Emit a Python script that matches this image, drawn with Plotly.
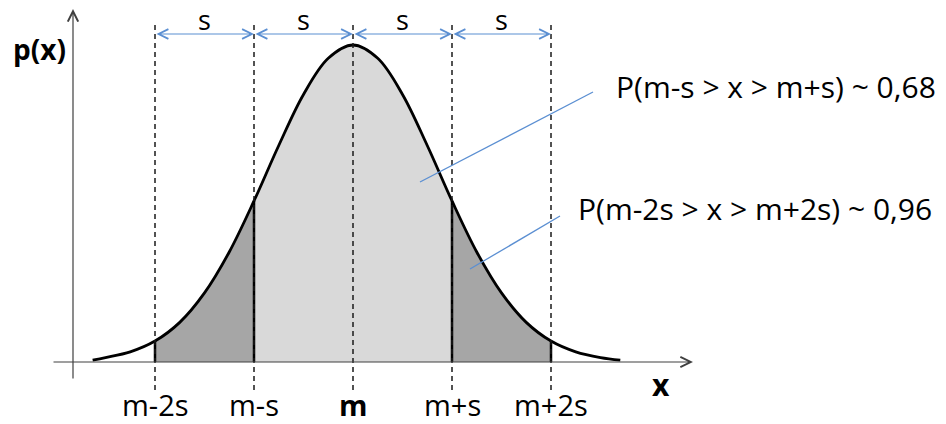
import plotly.graph_objects as go

# positions in units of s, centred on m
curve_x = [-2.63, -2.5, -2.25, -2.0, -1.75, -1.5, -1.25, -1.0, -0.75, -0.5, -0.25, 0.0,
           0.25, 0.5, 0.75, 1.0, 1.25, 1.5, 1.75, 2.0, 2.25, 2.5, 2.70]
# height of the curve, peak = 1
curve_y = [0.006, 0.014, 0.032, 0.066, 0.125, 0.218, 0.347, 0.508, 0.683, 0.844, 0.958, 1.0,
           0.958, 0.844, 0.683, 0.508, 0.347, 0.218, 0.125, 0.066, 0.032, 0.014, 0.006]

tick_pos = [-2, -1, 0, 1, 2]
tick_text = ['m-2s', 'm-s', '<b>m</b>', 'm+s', 'm+2s']
span_labels = ['s', 's', 's', 's']
prob_labels = ['P(m-s > x > m+s) ~ 0,68', 'P(m-2s > x > m+2s) ~ 0,96']

colors = {'light': '#d9d9d9', 'dark': '#a6a6a6', 'blue': '#5b8fd2', 'axis': '#404040'}
FONT = 'Open Sans'

# the page body has an 8px margin, so the figure sits at (8, 8) in the window
OFF = 8
W, H = 938, 408
# window pixel mapping: m at x=353, s = 99px; baseline at y=362, peak at y=45
X0, SPX, Y0, PKH = 353, 99.0, 362, 317.0


def px_x(p):
    return (p - X0) / SPX


def px_y(p):
    return (Y0 - p) / PKH


def segment(lo, hi):
    xs = [x for x in curve_x if lo <= x <= hi]
    ys = [y for x, y in zip(curve_x, curve_y) if lo <= x <= hi]
    return xs, ys


fig = go.Figure()

for lo, hi, c in [(-2, -1, colors['dark']), (-1, 1, colors['light']), (1, 2, colors['dark'])]:
    xs, ys = segment(lo, hi)
    fig.add_trace(go.Scatter(x=xs, y=ys, mode='lines', fill='tozeroy', fillcolor=c,
                             line=dict(width=0, shape='spline'), hoverinfo='skip'))

# dashed guide lines
for t in tick_pos:
    fig.add_shape(type='line', x0=t, x1=t, y0=px_y(390), y1=px_y(23),
                  line=dict(color='#1a1a1a', width=1.5, dash='5px,4px'))

# solid borders of the shaded regions
for t in [-2, -1, 1, 2]:
    h = curve_y[curve_x.index(t)]
    fig.add_trace(go.Scatter(x=[t, t], y=[0, h], mode='lines',
                             line=dict(color='black', width=2.5), hoverinfo='skip'))

fig.add_trace(go.Scatter(x=curve_x, y=curve_y, mode='lines',
                         line=dict(color='black', width=2.8, shape='spline'), hoverinfo='skip'))

ann = []
# axes with arrows
ann.append(dict(x=px_x(693), y=0, ax=px_x(52), ay=0, xref='x', yref='y', axref='x', ayref='y',
                text='', showarrow=True, arrowhead=5, arrowsize=1.7, arrowwidth=1.2,
                arrowcolor=colors['axis']))
ann.append(dict(x=px_x(73), y=px_y(9), ax=px_x(73), ay=px_y(380), xref='x', yref='y',
                axref='x', ayref='y', text='', showarrow=True, arrowhead=5, arrowsize=1.7,
                arrowwidth=1.2, arrowcolor=colors['axis']))

# s spans
for i, lab in enumerate(span_labels):
    a, b = tick_pos[i], tick_pos[i + 1]
    ann.append(dict(x=b, y=px_y(34), ax=a, ay=px_y(34), xref='x', yref='y', axref='x', ayref='y',
                    text='', showarrow=True, arrowhead=5, arrowside='end+start', arrowsize=1.6,
                    arrowwidth=1.2, arrowcolor=colors['blue']))
    ann.append(dict(x=(a + b) / 2, y=px_y(19), text=lab, showarrow=False, xref='x', yref='y',
                    height=22, borderpad=0,
                    font=dict(family=FONT, size=27, color='black')))

# tick labels
for t, lab in zip(tick_pos, tick_text):
    ann.append(dict(x=t, y=px_y(404), text=lab, showarrow=False, xref='x', yref='y',
                    height=24, borderpad=0,
                    font=dict(family=FONT, size=29, color='black')))

ann.append(dict(x=px_x(39), y=px_y(49), text='<b>p(x)</b>', showarrow=False, xref='x', yref='y',
                font=dict(family=FONT, size=28, color='black')))
ann.append(dict(x=px_x(661), y=px_y(384), text='<b>x</b>', showarrow=False, xref='x', yref='y',
                font=dict(family=FONT, size=30, color='black')))

# probability labels and leader lines
ann.append(dict(x=px_x(614), y=px_y(86), text=prob_labels[0], showarrow=False, xanchor='left',
                xref='x', yref='y', font=dict(family=FONT, size=30, color='black')))
ann.append(dict(x=px_x(576), y=px_y(208), text=prob_labels[1], showarrow=False, xanchor='left',
                xref='x', yref='y', font=dict(family=FONT, size=30, color='black')))
fig.add_shape(type='line', x0=px_x(420), y0=px_y(182), x1=px_x(593), y1=px_y(92),
              line=dict(color=colors['blue'], width=1.3))
fig.add_shape(type='line', x0=px_x(470), y0=px_y(269), x1=px_x(560), y1=px_y(216),
              line=dict(color=colors['blue'], width=1.3))

fig.update_layout(
    width=W, height=H,
    margin=dict(l=0, r=0, t=0, b=0),
    paper_bgcolor='white', plot_bgcolor='white',
    showlegend=False,
    annotations=ann,
    xaxis=dict(range=[px_x(OFF), px_x(OFF + W)], visible=False, fixedrange=True),
    yaxis=dict(range=[px_y(OFF + H), px_y(OFF)], visible=False, fixedrange=True),
)

fig.write_html('out.html')
